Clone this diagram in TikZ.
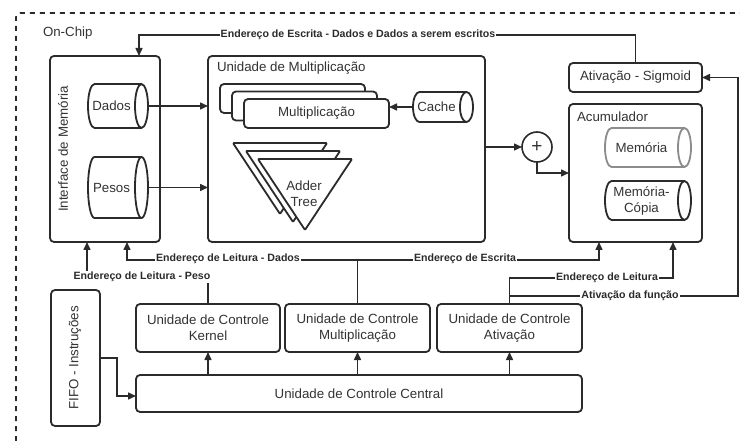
\documentclass[tikz,border=0pt]{standalone}
\usepackage{fontspec}
\setmainfont{Liberation Sans}
\usetikzlibrary{arrows.meta,shapes.geometric}
\definecolor{ink}{HTML}{2B2B2B}
\definecolor{txtc}{HTML}{333333}
\definecolor{memgray}{HTML}{8C8C8C}

% horizontal cylinder: name, left x, right x, top y, bottom y, text, extra line style
\newcommand\hcyl[7]{%
  \pgfmathsetmacro\hcA{#2+6.5}%
  \pgfmathsetmacro\hcB{#3-6.5}%
  \pgfmathsetmacro\hcM{(#4+#5)/2}%
  \pgfmathsetmacro\hcC{(#2+#3-13)/2}%
  \pgfmathsetlengthmacro\hcW{#3-13-#2}%
  \pgfmathsetlengthmacro\hcH{#5-#4}%
  \pgfmathsetlengthmacro\hcR{(#5-#4)/2}%
  \draw[cylline,#7] (\hcB,#4) -- (\hcA,#4)
     arc[start angle=90,end angle=270,x radius=6.5pt,y radius=\hcR] -- (\hcB,#5);
  \node[cylcap,#7,minimum height=\hcH] (#1cap) at (\hcB,\hcM) {};
  \node[minimum width=\hcW,minimum height=\hcH,align=center] (#1) at (\hcC,\hcM) {#6};
}

\begin{document}
\begin{tikzpicture}[x=1pt,y=-1pt,
  every node/.style={inner sep=0pt,outer sep=0pt,text=txtc,
    font=\fontsize{13.3}{16}\selectfont},
  frame/.style={draw=ink,line width=1.8pt,rounded corners=4pt,fill=white},
  cylline/.style={draw=ink,line width=1.8pt,fill=white},
  cylcap/.style={ellipse,draw=ink,line width=1.8pt,fill=white,minimum width=13pt},
  conn/.style={draw=ink,line width=1.5pt},
  arr/.style={conn,-{Triangle[length=8pt,width=7pt]}},
  lab/.style={fill=white,inner xsep=1pt,inner ysep=1.5pt,text=ink,
    font=\fontsize{10.6}{12}\selectfont\bfseries},
  dashframe/.style={draw=ink,line width=1.6pt,dash pattern=on 5pt off 5pt}
]
\useasboundingbox (0,0) rectangle (740,441);

% on-chip boundary
\draw[dashframe,rounded corners=4pt] (16,441) -- (16,13) -- (740,13);
\node[anchor=west] (onchip) at (43,33) {On-Chip};

% memory interface
\node[frame,minimum width=110pt,minimum height=186pt] (iface) at (105,149) {};
\node[rotate=90] (ifttl) at (63,149) {Interface de Memória};
\hcyl{dados}{88}{148}{84}{128}{Dados}{}
\hcyl{pesos}{88}{148}{157}{218}{Pesos}{}

% multiplication unit
\node[frame,minimum width=277pt,minimum height=186pt] (mult) at (346.5,149) {};
\node[anchor=west] (multttl) at (217,68) {Unidade de Multiplicação};
\node[frame,minimum width=145pt,minimum height=29pt] (multA) at (292.5,98.5) {};
\node[frame,minimum width=145pt,minimum height=29pt] (multB) at (304.5,106) {};
\node[frame,minimum width=145pt,minimum height=29pt] (multC) at (316.5,113.5) {Multiplicação};
\hcyl{cache}{413}{473}{92}{122}{Cache}{}
\draw[frame,rounded corners=1pt] (233,143) -- (327,143) -- (280,214) -- cycle;
\draw[frame,rounded corners=1pt] (246,151) -- (340,151) -- (293,222) -- cycle;
\draw[frame,rounded corners=1pt] (258,159) -- (352,159) -- (305,230) -- cycle;
\node[align=center] (adder) at (304,194) {Adder\\Tree};

% adder and accumulator
\node[circle,draw=ink,line width=1.6pt,fill=white,minimum size=30pt,
  font=\fontsize{19}{20}\selectfont] (plus) at (537,147) {+};
\node[frame,minimum width=133pt,minimum height=29pt] (sigm) at (635.5,77.5) {Ativação - Sigmoid};
\node[frame,minimum width=133pt,minimum height=138pt] (acum) at (635.5,173) {};
\node[anchor=west] (acumttl) at (577,117) {Acumulador};
\hcyl{mem}{605}{691}{128}{167}{Memória}{draw=memgray}
\hcyl{memcp}{605}{691}{181}{220}{Memória-\\Cópia}{}

% control units
\node[frame,minimum width=144pt,minimum height=48pt,align=center] (ucker) at (208,328)
  {Unidade de Controle\\Kernel};
\node[frame,minimum width=145pt,minimum height=48pt,align=center] (ucmul) at (357.5,328)
  {Unidade de Controle\\Multiplicação};
\node[frame,minimum width=145pt,minimum height=48pt,align=center] (ucati) at (509.5,328)
  {Unidade de Controle\\Ativação};
\node[frame,minimum width=446pt,minimum height=37pt] (central) at (359,393.5)
  {Unidade de Controle Central};
\node[frame,minimum width=49pt,minimum height=136pt] (fifo) at (75.5,358) {};
\node[rotate=90] (fifottl) at (75,358) {FIFO - Instruções};

% bend points of the buses
\coordinate (wbus) at (139,35);
\coordinate (rdD) at (127,260);
\coordinate (wrA) at (599,260);
\coordinate (rdP) at (87,277);
\coordinate (rdA) at (673,278);
\coordinate (actF) at (738,296);
\coordinate (fbend) at (117,396);

% data path
\draw[arr] (dadoscap.east) -- (dadoscap.east -| mult.west);
\draw[arr] (pesoscap.east) -- (pesoscap.east -| mult.west);
\draw[arr] (cache.west) -- (cache.west -| multC.east);
\draw[arr] (plus.west -| mult.east) -- (plus.west);
\draw[arr] (plus.south) |- (acum.west);
\draw[arr] (sigm.north) |- (wbus) -- (wbus |- iface.north);

% address and control buses
\draw[arr] (ucmul.north) |- (rdD) -- (rdD |- iface.south);
\draw[arr] (ucmul.north) |- (wrA) -- (wrA |- acum.south);
\draw[arr] (ucker.north) |- (rdP) -- (rdP |- iface.south);
\draw[arr] (ucati.north) |- (rdA) -- (rdA |- acum.south);
\draw[arr] (ucati.north) |- (actF) |- (sigm.east);
\draw[arr] (central.north -| ucker) -- (ucker.south);
\draw[arr] (central.north -| ucmul) -- (ucmul.south);
\draw[arr] (central.north -| ucati) -- (ucati.south);
\draw[arr] (fifo.east) -| (fbend) -- (fbend -| central.west);

% bus labels
\node[lab] (lwr) at (358,35) {Endereço de Escrita - Dados e Dados a serem escritos};
\node[lab] (lrdd) at (228,259) {Endereço de Leitura - Dados};
\node[lab] (lwra) at (465,259) {Endereço de Escrita};
\node[lab] (lrdp) at (142,277) {Endereço de Leitura - Peso};
\node[lab] (lrda) at (607,278) {Endereço de Leitura};
\node[lab] (lact) at (630,296) {Ativação da função};
\end{tikzpicture}
\end{document}
